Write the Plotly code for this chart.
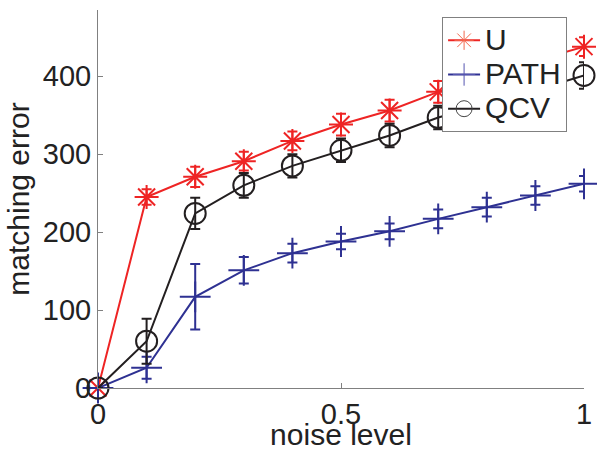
import plotly.graph_objects as go

noise = [0, 0.1, 0.2, 0.3, 0.4, 0.5, 0.6, 0.7, 0.8, 0.9, 1.0]

u_vals = [0, 245, 271, 291, 317, 338, 356, 380, 400, 420, 438]
u_err = [0, 10, 13, 12, 12, 14, 14, 14, 13, 13, 12]

path_vals = [0, 26, 117, 151, 173, 188, 201, 217, 232, 247, 262]
path_err = [0, 14, 42, 17, 12, 10, 10, 12, 12, 12, 10]

qcv_vals = [0, 60, 224, 260, 285, 305, 324, 347, 365, 382, 401]
qcv_err = [0, 29, 20, 16, 15, 15, 15, 15, 16, 16, 17]

series_names = ["U", "PATH", "QCV"]

x_ticks = [0, 0.5, 1]
x_tick_labels = ["0", "0.5", "1"]
y_ticks = [0, 100, 200, 300, 400]
y_tick_labels = ["0", "100", "200", "300", "400"]

RED = "#ee2424"
BLUE = "#2e3192"
BLACK = "#231f20"
FONT = "Liberation Sans, Arial, Helvetica, sans-serif"

fig = go.Figure()

def add_series(name, xs, ys, errs, color, symbol, size, legend_color):
    fig.add_trace(go.Scatter(
        x=xs, y=ys, name=name, mode="lines+markers", showlegend=False,
        line=dict(color=color, width=2),
        marker=dict(symbol=symbol, size=size, color=color,
                    line=dict(color=color, width=2)),
        error_y=dict(type="data", array=errs, visible=True,
                     color=color, thickness=2, width=5),
        cliponaxis=False,
    ))
    # legend entry (thinner marker, as in the reference legend)
    fig.add_trace(go.Scatter(
        x=[None], y=[None], mode="lines+markers", showlegend=True,
        name='<span style="font-size:30px">%s</span>' % name,
        line=dict(color=color, width=2),
        marker=dict(symbol=symbol, size=size, color=legend_color,
                    line=dict(color=legend_color, width=1)),
    ))

add_series(series_names[0], noise, u_vals, u_err, RED, "asterisk-open", 20, "#f26a4f")
add_series(series_names[1], noise, path_vals, path_err, BLUE, "cross-thin-open", 22, "#5555b0")
add_series(series_names[2], noise, qcv_vals, qcv_err, BLACK, "circle-open", 21, "#444444")

fig.update_layout(
    width=597, height=451,
    margin=dict(l=98, r=13, t=10, b=63),
    paper_bgcolor="white", plot_bgcolor="white",
    font=dict(family=FONT, size=29, color="#222222"),
    showlegend=True,
    legend=dict(
        x=0.708, y=0.981, xanchor="left", yanchor="top",
        bgcolor="white", bordercolor="#808080", borderwidth=1,
        font=dict(size=24, color="#222222"),
        tracegroupgap=0, itemwidth=32,
    ),
)

fig.update_xaxes(
    range=[0, 1], tickvals=x_ticks, ticktext=x_tick_labels,
    showgrid=False, zeroline=False, showline=True, linecolor="#808080",
    linewidth=1, ticks="inside", ticklen=5, tickcolor="#808080",
    title=dict(text="noise level", font=dict(size=30), standoff=0),
    automargin=False,
)
fig.update_yaxes(
    range=[0, 485], tickvals=y_ticks, ticktext=y_tick_labels,
    showgrid=False, zeroline=False, showline=True, linecolor="#808080",
    linewidth=1, ticks="inside", ticklen=5, tickcolor="#808080",
    title=dict(text="matching error", font=dict(size=30), standoff=4),
    automargin=False,
)

fig.write_html("out.html", config={"displayModeBar": False},
               post_script="document.body.style.margin='0';document.body.style.padding='0';")
